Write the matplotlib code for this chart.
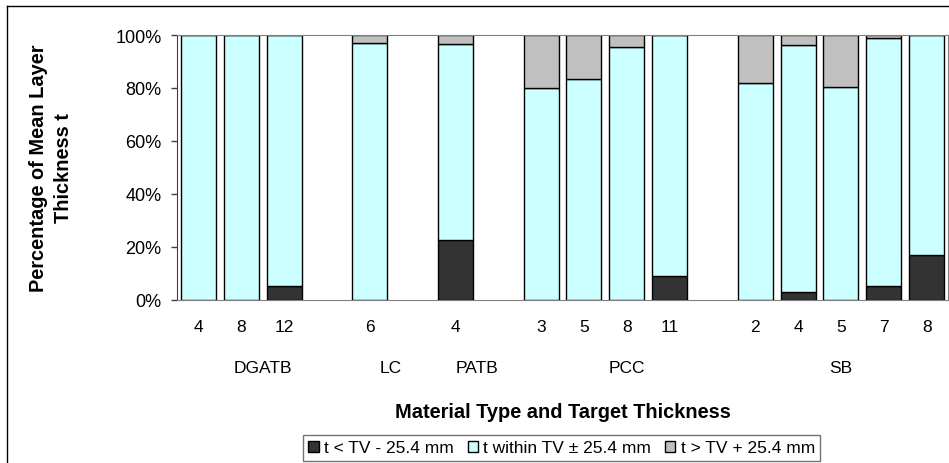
import numpy as np
import matplotlib.pyplot as plt
from matplotlib.lines import Line2D

plt.rcParams['font.family'] = ['Liberation Sans', 'DejaVu Sans']

# 18 category slots, blank slots keep the groups apart
thickness = ['4', '8', '12', '', '6', '', '4', '', '3', '5', '8', '11', '', '2', '4', '5', '7', '8']
groups = ['DGATB', 'LC', 'PATB', 'PCC', 'SB']
group_pos = [1.5, 4.5, 6.5, 10, 15]

below = [0, 0, 5.3, 0, 0, 0, 22.7, 0, 0, 0, 0, 8.8, 0, 0, 3.0, 0, 5.0, 16.9]
within = [100, 100, 94.7, 0, 97.0, 0, 73.9, 0, 80.0, 83.3, 95.6, 91.2, 0, 81.9, 93.1, 80.4, 94.0, 83.1]
above = [0, 0, 0, 0, 3.0, 0, 3.4, 0, 20.0, 16.7, 4.4, 0, 0, 18.1, 3.9, 19.6, 1.0, 0]

labels = ['t < TV - 25.4 mm', 't within TV \u00b1 25.4 mm', 't > TV + 25.4 mm']
colors = ['#333333', '#ccffff', '#c0c0c0']

fig = plt.figure(figsize=(9.49, 4.64), dpi=100)
ax = fig.add_axes([177/949, 163.3/464, 771/949, 264.7/464])

x = np.arange(len(thickness))
b = np.array(below)
w = np.array(within)
a = np.array(above)
filled = (b + w + a) > 0
ax.bar(x[filled], b[filled], 0.82, color=colors[0], edgecolor='black', linewidth=1)
ax.bar(x[filled], w[filled], 0.82, bottom=b[filled], color=colors[1], edgecolor='black', linewidth=1)
ax.bar(x[filled], a[filled], 0.82, bottom=(b + w)[filled], color=colors[2], edgecolor='black', linewidth=1)

ax.set_xlim(-0.5, 17.5)
ax.set_ylim(0, 100)
ax.set_yticks([0, 20, 40, 60, 80, 100])
ax.set_yticklabels(['0%', '20%', '40%', '60%', '80%', '100%'])
ax.set_xticks(x)
ax.set_xticklabels(thickness)
ax.tick_params(axis='x', length=0, pad=14, labelsize=12.5)
ax.tick_params(axis='y', length=4, width=1, pad=7, labelsize=13, color='#404040')
for s in ax.spines.values():
    s.set_color('#808080')
ax.spines['left'].set_color('#404040')

for g, p in zip(groups, group_pos):
    ax.text(p, -0.258, g, transform=ax.get_xaxis_transform(), ha='center', va='center', fontsize=12.5)

ax.text(0.5, -0.424, 'Material Type and Target Thickness', transform=ax.transAxes,
        ha='center', va='center', fontsize=14.4, fontweight='bold')
fig.text(51/949, 1 - 168/464, 'Percentage of Mean Layer\nThickness t', rotation=90,
         ha='center', va='center', multialignment='center', fontsize=14.4, fontweight='bold',
         linespacing=1.35)

handles = [plt.Rectangle((0, 0), 1, 1, facecolor=c, edgecolor='black', linewidth=1) for c in colors]
leg = fig.legend(handles, labels, loc='center', bbox_to_anchor=(561.5/949, 1 - 449/464), ncol=3,
                 fontsize=12.5, frameon=True, fancybox=False, handlelength=0.6, handleheight=0.6,
                 handletextpad=0.3, columnspacing=0.8, borderpad=0.3)
leg.get_frame().set_edgecolor('#505050')
leg.get_frame().set_linewidth(1)

# outer chart frame (cut off at right and bottom)
fig.add_artist(Line2D([7/949, 7/949], [0, 1 - 7/464], transform=fig.transFigure, color='black', lw=1))
fig.add_artist(Line2D([7/949, 1], [1 - 7/464, 1 - 7/464], transform=fig.transFigure, color='black', lw=1))

fig.savefig('out.png', dpi=100)
